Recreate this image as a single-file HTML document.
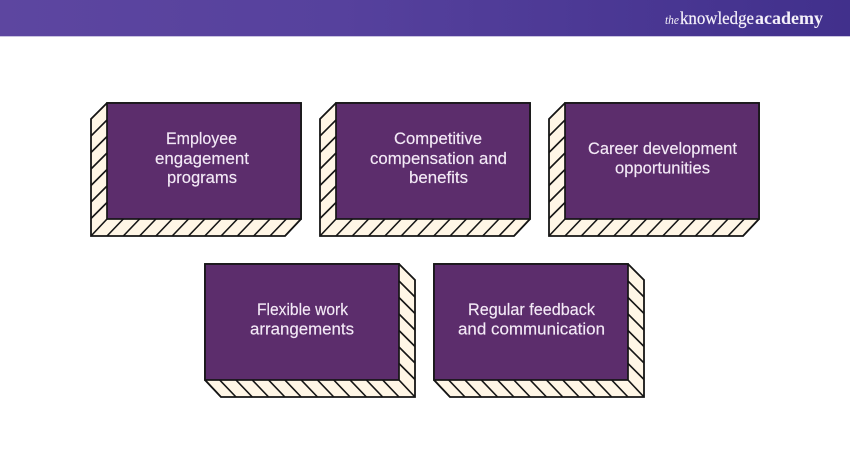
<!DOCTYPE html>
<html><head><meta charset="utf-8">
<style>
html,body{margin:0;padding:0;background:#fff;width:850px;height:450px;overflow:hidden}
svg{display:block}
.t{font-family:"Liberation Sans",sans-serif;font-size:16.5px;fill:#f3e9f6;stroke:#f3e9f6;stroke-width:.15px;text-anchor:start}
.l{font-family:"Liberation Serif",serif;fill:#f4f0fa}
</style></head><body>
<svg width="850" height="450" viewBox="0 0 850 450" xmlns="http://www.w3.org/2000/svg">
<defs>
<linearGradient id="h" x1="0" x2="1" y1="0" y2="0">
<stop offset="0" stop-color="#5d46a0"/><stop offset="0.4" stop-color="#56419d"/><stop offset="1" stop-color="#41308c"/>
</linearGradient>
<g id="L">
<path d="M0 0L-16 16V133H178L194 116V0Z" fill="#fff6e6" stroke="#151515" stroke-width="1.8" stroke-linejoin="miter"/>
<path d="M0 17L-16 33M0 33.5L-16 49.5M0 50L-16 66M0 66.5L-16 82.5M0 83L-16 99M0 99.5L-16 115.5M0 116L-16 133M16.3 116L0 133M32.6 116L16.3 133M48.9 116L32.6 133M65.2 116L48.9 133M81.5 116L65.2 133M97.8 116L81.5 133M114.1 116L97.8 133M130.4 116L114.1 133M146.7 116L130.4 133M163 116L146.7 133M179.3 116L163 133M194 116L178 133" stroke="#151515" stroke-width="1.6" fill="none"/>
<rect x="0" y="0" width="194" height="116" fill="#5c2d6c" stroke="#151515" stroke-width="1.7"/>
</g>
<g id="R">
<path d="M194 0L210 16V133H16L0 116V0Z" fill="#fff6e6" stroke="#151515" stroke-width="1.8"/>
<path d="M194 17L210 33M194 33.5L210 49.5M194 50L210 66M194 66.5L210 82.5M194 83L210 99M194 99.5L210 115.5M194 116L210 133M177.7 116L194 133M161.4 116L177.7 133M145.1 116L161.4 133M128.8 116L145.1 133M112.5 116L128.8 133M96.2 116L112.5 133M79.9 116L96.2 133M63.6 116L79.9 133M47.3 116L63.6 133M31 116L47.3 133M14.7 116L31 133M0 116L16 133" stroke="#151515" stroke-width="1.6" fill="none"/>
<rect x="0" y="0" width="194" height="116" fill="#5c2d6c" stroke="#151515" stroke-width="1.7"/>
</g>
</defs>
<rect width="850" height="36" fill="url(#h)"/>
<rect y="36" width="850" height="1" fill="#c9c3e0"/>
<text class="l" x="665" y="24" font-size="13" font-style="italic" textLength="14" lengthAdjust="spacingAndGlyphs">the</text>
<text class="l" x="680" y="24" font-size="18" stroke="#f4f0fa" stroke-width=".2" textLength="74" lengthAdjust="spacingAndGlyphs">knowledge</text>
<text class="l" x="755" y="24" font-size="18" font-weight="bold" textLength="68" lengthAdjust="spacingAndGlyphs">academy</text>

<use href="#L" x="107" y="103"/>
<use href="#L" x="336" y="103"/>
<use href="#L" x="565" y="103"/>
<use href="#R" x="205" y="264"/>
<use href="#R" x="434" y="264"/>

<text class="t" x="166" y="144" textLength="71" lengthAdjust="spacingAndGlyphs">Employee</text>
<text class="t" x="155" y="164" textLength="94" lengthAdjust="spacingAndGlyphs">engagement</text>
<text class="t" x="167" y="183" textLength="70" lengthAdjust="spacingAndGlyphs">programs</text>

<text class="t" x="394" y="144" textLength="88" lengthAdjust="spacingAndGlyphs">Competitive</text>
<text class="t" x="370" y="164" textLength="137" lengthAdjust="spacingAndGlyphs">compensation and</text>
<text class="t" x="409" y="183" textLength="59" lengthAdjust="spacingAndGlyphs">benefits</text>

<text class="t" x="588" y="154" textLength="149" lengthAdjust="spacingAndGlyphs">Career development</text>
<text class="t" x="615" y="173.5" textLength="95" lengthAdjust="spacingAndGlyphs">opportunities</text>

<text class="t" x="257" y="315" textLength="91" lengthAdjust="spacingAndGlyphs">Flexible work</text>
<text class="t" x="250" y="334.5" textLength="104" lengthAdjust="spacingAndGlyphs">arrangements</text>

<text class="t" x="468" y="315" textLength="127" lengthAdjust="spacingAndGlyphs">Regular feedback</text>
<text class="t" x="458" y="334.5" textLength="147" lengthAdjust="spacingAndGlyphs">and communication</text>
</svg>
</body></html>
